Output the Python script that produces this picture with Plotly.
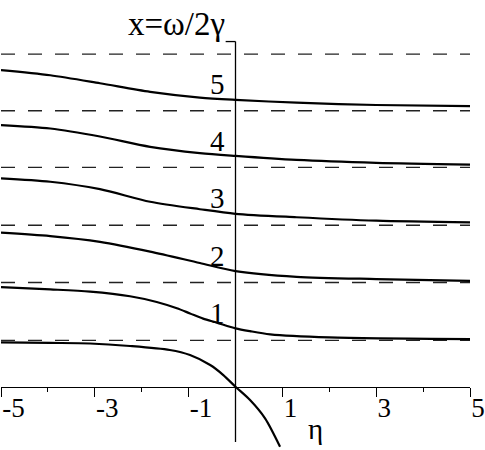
import plotly.graph_objects as go

# ---------------------------------------------------------
# Data: x = omega / 2 gamma versus eta
# ---------------------------------------------------------
eta = [-5, -3.95, -2.89, -1.82, -0.76, 0, 1.3, 3.0, 5]
branch_2 = [2.69, 2.63, 2.53, 2.36, 2.16, 2.02, 1.92, 1.88, 1.85]
branch_3 = [3.64, 3.58, 3.45, 3.23, 3.10, 3.02, 2.96, 2.90, 2.87]
branch_4 = [4.57, 4.51, 4.37, 4.19, 4.08, 4.03, 3.96, 3.91, 3.88]
branch_5 = [5.53, 5.44, 5.30, 5.15, 5.05, 5.01, 4.96, 4.92, 4.90]

eta_1 = [-5, -3.95, -3.10, -2.25, -1.68, -1.25, -0.97, -0.69, -0.40, 0, 0.31, 0.74, 2.0, 5]
branch_1 = [1.74, 1.70, 1.66, 1.58, 1.48, 1.37, 1.28, 1.19, 1.12, 1.02, 0.97, 0.915, 0.863, 0.833]

# lowest branch runs off to -infinity for eta > 0
eta_0 = [-5, -3.95, -3.10, -2.25, -1.40, -0.97, -0.54, -0.26, 0, 0.31, 0.63, 0.95]
branch_0 = [0.775, 0.765, 0.755, 0.711, 0.641, 0.553, 0.379, 0.204, 0, -0.232, -0.552, -1.048]

branches = [(eta_1, branch_1), (eta, branch_2), (eta, branch_3), (eta, branch_4), (eta, branch_5)]
branch_labels = ["1", "2", "3", "4", "5"]

# dashed asymptotes
asymptotes = [0.81, 1.82, 2.82, 3.83, 4.82, 5.81]

tick_vals = [-5, -3, -1, 1, 3, 5]
tick_text = ["-5", "-3", "-1", "1", "3", "5"]
minor_vals = [-4, -2, 0, 2, 4]

FONT = "Liberation Serif"
FS = 27

fig = go.Figure()

# dashed horizontal lines
for a in asymptotes:
    fig.add_trace(go.Scatter(
        x=[-5, 5], y=[a, a], mode="lines",
        line=dict(color="#222", width=1.3, dash="14px,13px"),
        hoverinfo="skip", showlegend=False
    ))

# solid branches
fig.add_trace(go.Scatter(
    x=eta_0, y=branch_0, mode="lines",
    line=dict(color="black", width=2.2, shape="spline", smoothing=0.8),
    showlegend=False
))
for xs, ys in branches:
    fig.add_trace(go.Scatter(
        x=xs, y=ys, mode="lines",
        line=dict(color="black", width=2.2, shape="spline", smoothing=0.8),
        showlegend=False
    ))

# branch numbers, sitting above each curve just left of eta = 0
for k, lab in enumerate(branch_labels):
    fig.add_annotation(x=-0.38, y=asymptotes[k] + 0.47, text=lab, showarrow=False,
                       font=dict(family=FONT, size=29, color="black"))

# axis titles
fig.add_annotation(x=-0.18, xref="x", xanchor="right", y=0.98, yref="paper",
                   yanchor="bottom", text="x=ω/2γ", showarrow=False,
                   font=dict(family=FONT, size=33, color="black"))
fig.add_annotation(x=1.70, y=-0.74, text="η", showarrow=False,
                   font=dict(family=FONT, size=29, color="black"))

# vertical axis at eta = 0 with a small tick at its top
fig.add_shape(type="line", x0=0, x1=0, y0=-0.967, y1=6.028,
              line=dict(color="black", width=1.3))
fig.add_shape(type="line", x0=-0.21, x1=0, y0=6.028, y1=6.028,
              line=dict(color="black", width=1.3))

fig.update_layout(
    width=485, height=450,
    margin=dict(l=1, r=15, t=36, b=0, autoexpand=False),
    paper_bgcolor="white", plot_bgcolor="white",
    showlegend=False,
    xaxis=dict(
        range=[-5, 5], anchor="free", position=0.1529, automargin=False,
        showline=True, linecolor="black", linewidth=1.3,
        showgrid=False, zeroline=False,
        ticks="outside", ticklen=9, tickwidth=1.2, tickcolor="black",
        tickmode="array", tickvals=tick_vals, ticktext=tick_text,
        ticklabelposition="outside right", ticklabelstandoff=-3,
        ticklabeloverflow="allow",
        tickfont=dict(family=FONT, size=FS, color="black"),
        minor=dict(tickmode="array", tickvals=minor_vals, ticks="outside",
                   ticklen=4, tickwidth=1.2, tickcolor="black", showgrid=False),
    ),
    yaxis=dict(range=[-1.105, 6.125], visible=False, showgrid=False,
               zeroline=False, automargin=False),
)

# the page's default body margin would push the chart 8px off the window
fig.write_html("out.html", config={"displayModeBar": False},
               post_script="document.body.style.margin='0';")
